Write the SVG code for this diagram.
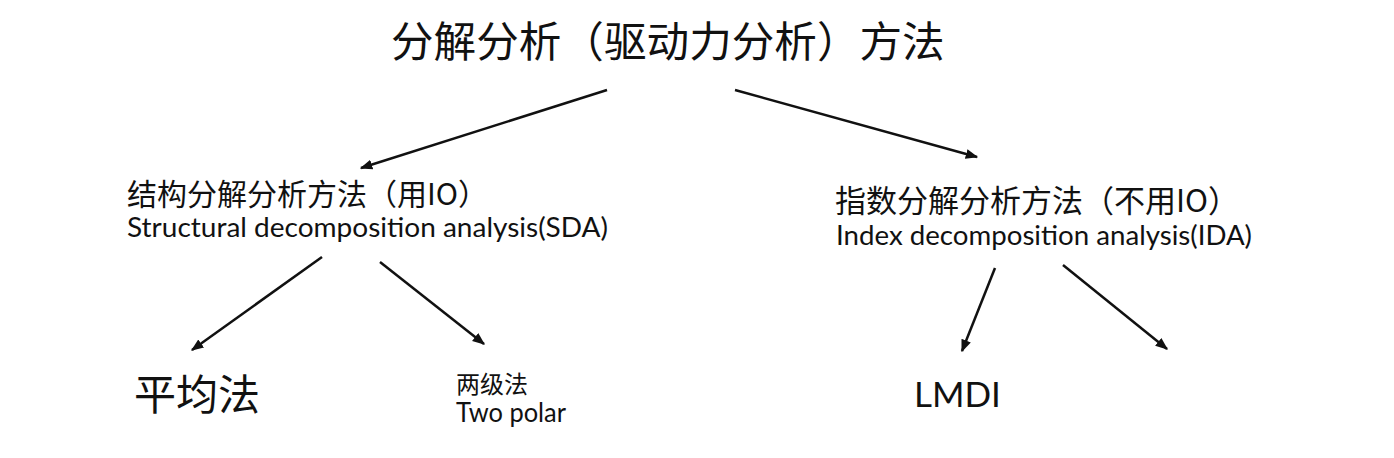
<svg xmlns="http://www.w3.org/2000/svg" width="1394" height="458" viewBox="0 0 1394 458">
<style>
.cjk{font-family:"Noto Sans CJK SC","Noto Sans",sans-serif;fill:#111;}
.lat{font-family:Lato,"Open Sans",sans-serif;fill:#111;}
.edge{stroke:#111;stroke-width:2.5;fill:none;marker-end:url(#ah);}
</style>
<defs>
<marker id="ah" viewBox="0 0 10 10" refX="9" refY="5" markerWidth="5" markerHeight="5" orient="auto" markerUnits="strokeWidth">
<path d="M0,1 L10,5 L0,9 z" fill="#111"/>
</marker>
</defs>
<rect width="1394" height="458" fill="#fff"/>
<g id="connectors">
<line class="edge" x1="607" y1="90" x2="361" y2="168"/>
<line class="edge" x1="735" y1="90" x2="977" y2="157"/>
<line class="edge" x1="322" y1="257" x2="192" y2="350"/>
<line class="edge" x1="380" y1="262" x2="484" y2="344"/>
<line class="edge" x1="995" y1="268" x2="962" y2="351"/>
<line class="edge" x1="1063" y1="265" x2="1167" y2="349"/>
</g>
<g id="root">
<text class="cjk" x="391" y="57" font-size="42.6">分解分析（驱动力分析）方法</text>
</g>
<g id="sda">
<text class="cjk" x="127" y="205" font-size="30">结构分解分析方法（用IO）</text>
<text class="lat" x="127" y="237" font-size="26" textLength="481" lengthAdjust="spacingAndGlyphs">Structural decomposition analysis(SDA)</text>
</g>
<g id="ida">
<text class="cjk" x="835" y="212" font-size="31">指数分解分析方法（不用IO）</text>
<text class="lat" x="836" y="245" font-size="26" textLength="416" lengthAdjust="spacingAndGlyphs">Index decomposition analysis(IDA)</text>
</g>
<g id="avg">
<text class="cjk" x="134" y="410" font-size="42">平均法</text>
</g>
<g id="twopolar">
<text class="cjk" x="456" y="393" font-size="24">两级法</text>
<text class="lat" x="456" y="422" font-size="26" textLength="110" lengthAdjust="spacingAndGlyphs">Two polar</text>
</g>
<g id="lmdi">
<text class="lat" x="914" y="407" font-size="35">LMDI</text>
</g>
</svg>
